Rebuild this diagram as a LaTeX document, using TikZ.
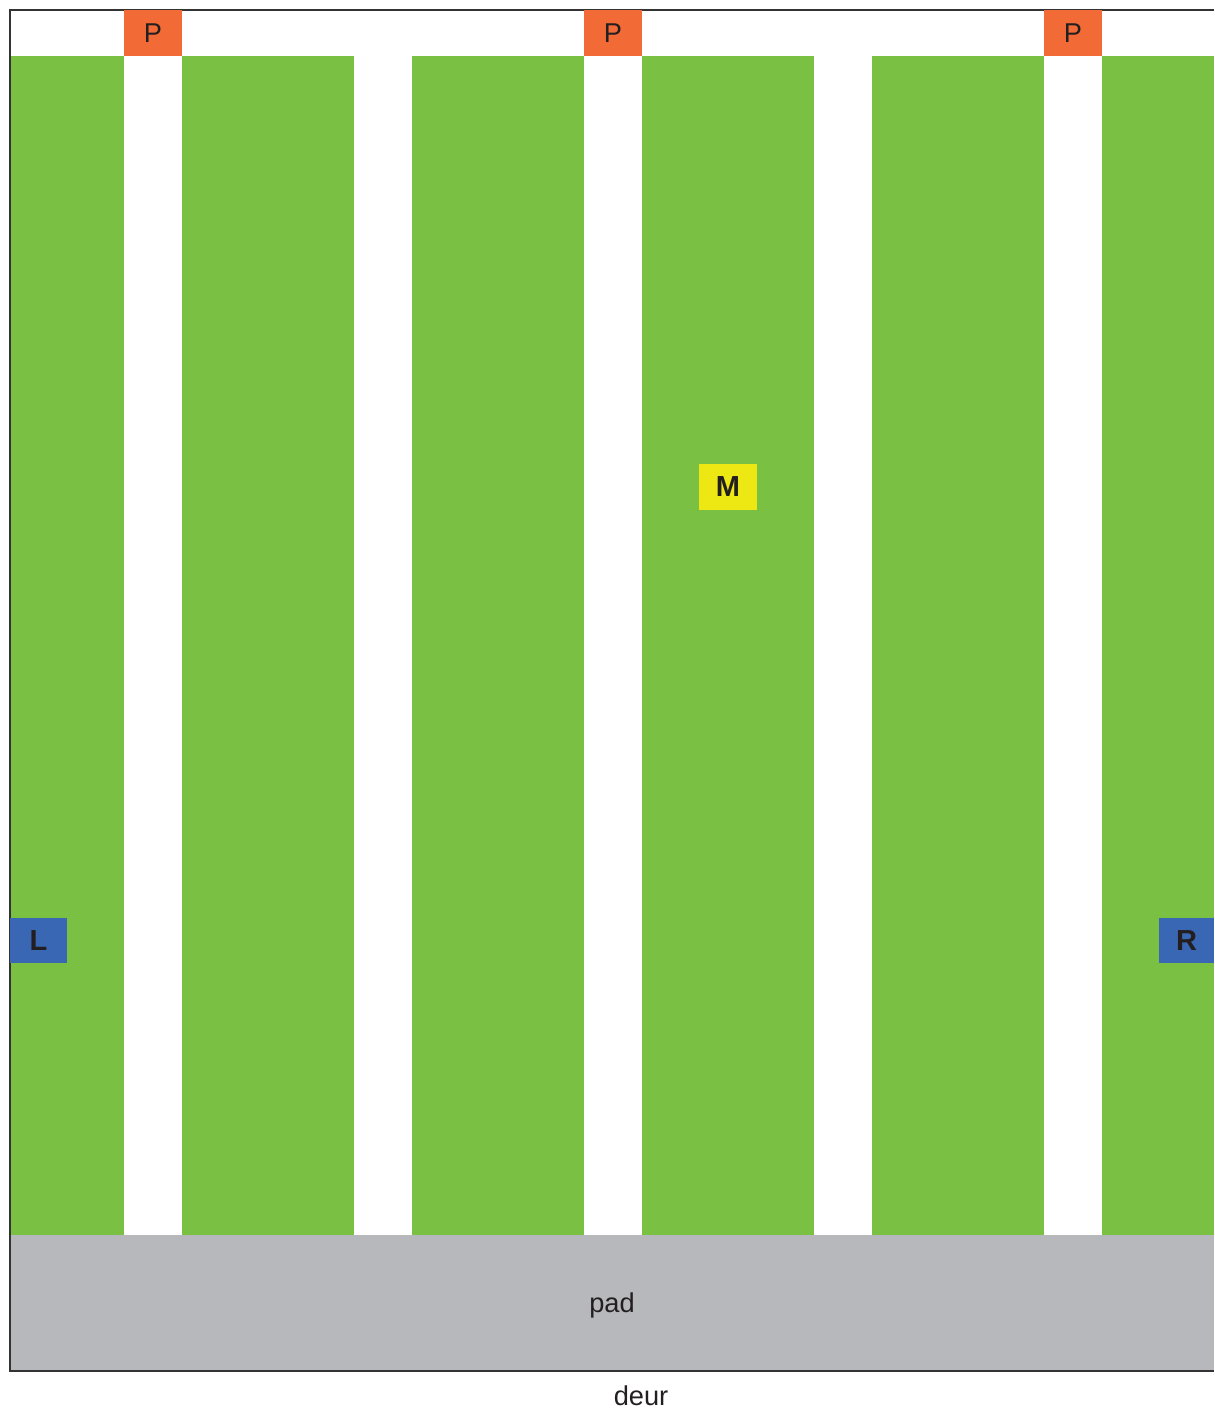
\documentclass[tikz,border=0pt]{standalone}
\usepackage{fontspec}
\setmainfont{Liberation Sans}
\usetikzlibrary{positioning}

\definecolor{veld}{HTML}{7AC143}
\definecolor{padgrijs}{HTML}{B7B8BB}
\definecolor{paaloranje}{HTML}{F26A35}
\definecolor{zijblauw}{HTML}{3A67B3}
\definecolor{middengeel}{HTML}{EDE813}
\definecolor{tekst}{HTML}{231F20}

\begin{document}
\begin{tikzpicture}[
    x=0.02cm, y=-0.02cm,
    font=\fontsize{15.5}{18}\selectfont, text=tekst,
    paal/.style={rectangle, fill=paaloranje, minimum width=1.16cm,
                 minimum height=0.92cm, inner sep=0pt},
    zijde/.style={rectangle, fill=zijblauw, minimum height=0.9cm,
                  inner sep=0pt, font=\fontsize{16.5}{19}\selectfont\bfseries},
    midden/.style={rectangle, fill=middengeel, minimum width=1.16cm,
                   minimum height=0.92cm, inner sep=0pt,
                   font=\fontsize{16.5}{19}\selectfont\bfseries},
    rand/.style={draw=black!80, line width=0.6pt}
]
  \useasboundingbox (0,0) rectangle (1214,1410);

  % veld met paden
  \fill[veld] (10,56) rectangle (1214,1235);
  \foreach \x in {124,354,584,814,1044}
    \fill[white] (\x,56) rectangle ++(58,1179);
  \fill[padgrijs] (10,1235) rectangle (1214,1371);

  \draw[rand] (1214,10) -- (10,10) -- (10,1371) -- (1214,1371);

  % palen
  \node[paal] (p1) at (153,33) {P};
  \node[paal] (p2) at (613,33) {P};
  \node[paal] (p3) at (1073,33) {P};

  \node[midden] (m) at (728,487) {M};
  \node[zijde, minimum width=1.14cm] (l) at (38.5,940.5) {L};
  \node[zijde, minimum width=1.1cm] (r) at (1186.5,940.5) {R};

  \node (pad) at (612,1305) {pad};
  \node (deur) at (641,1396) {deur};
\end{tikzpicture}
\end{document}
